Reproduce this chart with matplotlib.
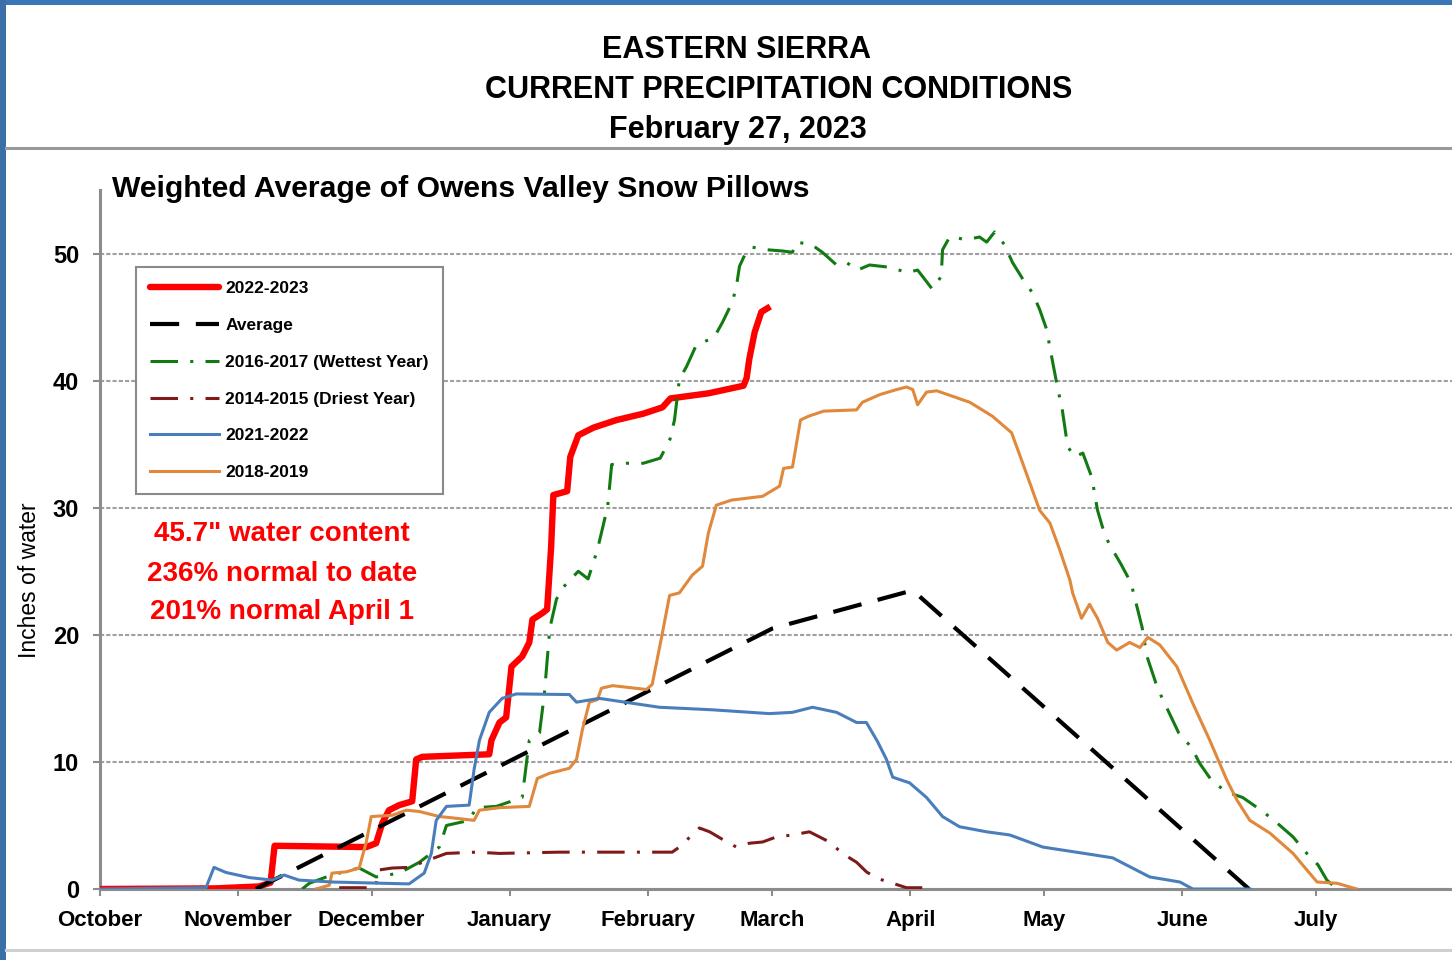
import numpy as np
import matplotlib
matplotlib.use("Agg")
import matplotlib.pyplot as plt
from matplotlib import font_manager
from matplotlib.lines import Line2D
from matplotlib.patches import Rectangle

# days since Oct 1 / inches of water
red_days = [0, 26, 35.7, 38.3, 39.2, 59.8, 62, 63.4, 64.9, 67.2, 70.1, 71, 72.4, 87.4, 87.9,
            89.7, 91.2, 92.4, 94.8, 96.4, 97.1, 99.3, 100.4, 101.3, 101.8, 104.9, 105.6,
            107.4, 110.8, 116, 122, 126.3, 128.1, 136.6, 144.5, 145.2, 145.8, 147, 148.5, 149.9]
red_vals = [0, 0.05, 0.2, 0.5, 3.4, 3.3, 3.6, 5.2, 6.2, 6.6, 6.9, 10.2, 10.4, 10.6, 11.7,
            13.1, 13.5, 17.5, 18.3, 19.4, 21.2, 21.7, 22.0, 26.9, 31.0, 31.3, 34.0,
            35.7, 36.3, 36.9, 37.4, 37.9, 38.6, 39.0, 39.6, 40.2, 41.7, 43.8, 45.4, 45.7]

avg_days = [35, 151, 182.5, 258]
avg_vals = [0, 20.5, 23.5, 0]

wet_days = [45.4, 47, 52, 58.2, 62, 67.2, 71.7, 76.2, 77.8, 82.9, 84.5, 89, 94.8, 96.4, 98.7,
            99.8, 101, 102.5, 103.9, 107.4, 109.6, 110.8, 111.7, 114, 114.9, 118.2, 122,
            125.8, 128, 129, 130.1, 131.7, 133.9, 137.9, 139.8, 142, 142.9, 143.6, 145.2,
            146.5, 149.7, 153.3, 155.5, 156.4, 159.8, 162.2, 165.4, 167.6, 170.1, 172.8,
            177.8, 181.1, 183.6, 186.9, 188.9, 189.2, 190.8, 194.6, 197.5, 199.1, 200.9,
            203.1, 204.9, 207.2, 209.4, 211, 212.6, 213.3, 215.1, 216, 217.3, 218.9, 220.7,
            222.7, 223.4, 224, 225.6, 226.7, 229.2, 231.5, 234, 235.1, 237.1, 238.4, 242.2,
            245.2, 246.9, 249.9, 253.3, 256.6, 261.1, 264.3, 267.9, 271, 273.5, 275.5, 277.8]
wet_vals = [0, 0.45, 1.1, 1.65, 0.95, 1.25, 2.1, 3.3, 5, 5.4, 6.4, 6.5, 7.2, 11.7, 12.3,
            15.4, 20.5, 22.8, 23.7, 25, 24.4, 25.7, 26.7, 30.1, 33.4, 33.5, 33.5,
            33.9, 35.4, 36.9, 40.1, 41.1, 42.8, 43.4, 44.6, 46.2, 47.4, 49, 50.2,
            50.5, 50.3, 50.2, 50.1, 50.9, 50.7, 50.1, 49.1, 49.3, 48.7, 49.1,
            48.9, 48.5, 48.7, 47.2, 48.2, 50.3, 51.3, 51.1, 51.3, 50.9, 51.7,
            50.7, 49.3, 48, 46.9, 45.6, 44, 42.6, 39.3, 37.9, 34.8, 34, 34.3,
            32.4, 31, 29.8, 27.9, 27.1, 25.6, 24.1, 20.6, 18.3, 16.2, 15.1, 12.3,
            11.1, 9.9, 8.4, 7.6, 7.2, 6.1, 5.2, 4.1, 2.8, 1.9, 0.7, 0]

dry_days = [53.7, 58.9, 61.8, 62.7, 65.6, 69.4, 73.9, 77.8, 84.5, 89.7, 103.1, 128.5, 130.1,
            134.6, 136.9, 139.8, 142.9, 145.8, 148.8, 151.9, 155.5, 159.3, 163.8, 166.7,
            169.9, 172.1, 174.4, 178, 181.1, 184.7]
dry_vals = [0.1, 0.1, 0.1, 1.5, 1.65, 1.7, 2.3, 2.8, 2.9, 2.8, 2.9, 2.9, 3.3,
            4.8, 4.5, 3.9, 3.3, 3.6, 3.7, 4.1, 4.25, 4.5, 3.7, 2.8,
            2.1, 1.35, 0.85, 0.45, 0.1, 0.1]

y2122_days = [0, 23.8, 25.6, 28.3, 33.5, 38.7, 41.3, 44.7, 52.1, 69.4, 72.8, 74.4, 75.5, 77.8,
              82.9, 84, 85.2, 87.4, 90.3, 93.5, 105.4, 107, 112.1, 125.6, 137.5, 150.3, 155.5,
              160, 165.4, 169.9, 172.1, 174.6, 176.6, 178, 181.8, 185.6, 189.2, 193, 199.1,
              204.3, 211.7, 222.9, 227.4, 235.7, 242.5, 245.4, 258.2]
y2122_vals = [0, 0.1, 1.7, 1.3, 0.9, 0.7, 1.1, 0.7, 0.55, 0.4, 1.25, 2.8, 5.4, 6.5,
              6.6, 9.4, 11.7, 13.9, 15, 15.35, 15.3, 14.7, 15, 14.3, 14.1, 13.8, 13.9,
              14.3, 13.9, 13.1, 13.1, 11.6, 10.2, 8.8, 8.35, 7.2, 5.7, 4.9, 4.5,
              4.25, 3.3, 2.7, 2.45, 0.95, 0.55, 0, 0]

y1819_days = [48.5, 51.5, 52.1, 55.3, 58.2, 59.8, 60.9, 65.6, 68.8, 71.7, 76.2, 79.1, 84, 85.2,
              89.7, 96.4, 98.2, 100.9, 105.4, 107, 108.3, 109.9, 111.7, 112.6, 115.1, 122.7,
              124, 126.1, 127.9, 130.1, 133, 135.3, 136.6, 138.4, 141.8, 148.8, 152.6, 153.5,
              155.5, 157.3, 159.1, 162.5, 169.9, 171.2, 175.1, 178.9, 181.1, 182.5, 183.6,
              185.6, 187.9, 195.3, 200.4, 204.7, 207.2, 211, 213.3, 215.5, 217.8, 218.4,
              220.4, 222.2, 224, 226.3, 228.3, 231.2, 233.5, 235.3, 238, 241.8, 245.4,
              249.2, 253, 255.3, 258.2, 262.7, 267.9, 271, 273.3, 277.8, 282.2]
y1819_vals = [0, 0.3, 1.25, 1.35, 1.65, 3.7, 5.7, 5.8, 6.2, 6.1, 5.7, 5.6, 5.4, 6.2,
              6.4, 6.5, 8.7, 9.1, 9.5, 10.2, 12.5, 14.7, 14.9, 15.8, 16, 15.7,
              16.1, 19.8, 23.1, 23.3, 24.7, 25.4, 28, 30.2, 30.6, 30.9, 31.7, 33.1,
              33.2, 36.9, 37.2, 37.6, 37.7, 38.3, 38.9, 39.3, 39.5, 39.3, 38.1,
              39.1, 39.2, 38.3, 37.2, 35.9, 33.5, 29.8, 28.8, 26.7, 24.3, 23.3,
              21.3, 22.4, 21.3, 19.4, 18.8, 19.4, 19, 19.8, 19.2, 17.5, 14.6,
              11.7, 8.6, 7, 5.4, 4.4, 2.8, 1.5, 0.55, 0.45, 0]

months = ["October", "November", "December", "January", "February", "March",
          "April", "May", "June", "July"]
month_days = [0, 31, 61, 92, 123, 151, 182, 212, 243, 273]

W, H = 1452, 960
avail = {f.name for f in font_manager.fontManager.ttflist}
NARROW = "Liberation Sans Narrow" if "Liberation Sans Narrow" in avail else "Liberation Sans"
plt.rcParams["font.family"] = [NARROW, "DejaVu Sans"]

fig = plt.figure(figsize=(W / 100, H / 100), dpi=100)


def fx(px):
    return px / W


def fy(py):
    return 1 - py / H


# frame pieces of the screenshot
fig.patches.append(Rectangle((0, fy(5)), 1, 5 / H, transform=fig.transFigure,
                             facecolor="#3a76b6", edgecolor="none", zorder=0))
fig.patches.append(Rectangle((0, 0), fx(6), 1, transform=fig.transFigure,
                             facecolor="#3a6fa8", edgecolor="none", zorder=0))
fig.lines.append(Line2D([fx(6), 1], [fy(148), fy(148)], transform=fig.transFigure,
                        color="#9a9a9a", lw=2.2))
fig.lines.append(Line2D([fx(6), 1], [fy(950), fy(950)], transform=fig.transFigure,
                        color="#cfcfcf", lw=2.2))

fig.text(fx(737), fy(50), "EASTERN SIERRA", ha="center", va="center",
         fontsize=22, fontweight="bold")
fig.text(fx(779), fy(90), "CURRENT PRECIPITATION CONDITIONS", ha="center", va="center",
         fontsize=22, fontweight="bold")
fig.text(fx(738), fy(130), "February 27, 2023", ha="center", va="center",
         fontsize=22, fontweight="bold")

ax = fig.add_axes([fx(100), fy(889), 1 - fx(100), (889 - 190) / H])
ax.set_xlim(0, (W - 101) / 4.45)
ax.set_ylim(0, 55)

ax.plot(red_days, red_vals, color="#ff0000", lw=4.6, solid_joinstyle="round", zorder=3)
ax.plot(avg_days, avg_vals, color="black", lw=3, dashes=(7, 4), zorder=4)
ax.plot(wet_days, wet_vals, color="#127a12", lw=2.2, dashes=(9, 4, 1, 4), zorder=4)
ax.plot(dry_days, dry_vals, color="#7f1a1a", lw=2.2, dashes=(9, 4, 1, 4), zorder=4)
ax.plot(y1819_days, y1819_vals, color="#e0883c", lw=2.2, zorder=5)
ax.plot(y2122_days, y2122_vals, color="#4a7ebb", lw=2.2, zorder=6)

for s in ["top", "right"]:
    ax.spines[s].set_visible(False)
for s in ["left", "bottom"]:
    ax.spines[s].set_color("#8c8c8c")
    ax.spines[s].set_linewidth(2.2)

ax.set_yticks(range(0, 51, 10))
ax.set_xticks(month_days)
ax.set_xticklabels(months)
ax.tick_params(axis="both", colors="#8c8c8c", labelcolor="black", labelsize=16,
               width=1.5, length=5)
ax.tick_params(axis="y", pad=10, labelsize=17)
ax.tick_params(axis="x", pad=10)
for lab in ax.get_xticklabels() + ax.get_yticklabels():
    lab.set_fontweight("bold")

ax.yaxis.grid(True, color="#a0a0a0", lw=1.5, linestyle=(0, (2, 1)))
ax.set_axisbelow(True)

fig.text(fx(30), fy(580), "Inches of water", rotation=90, ha="center", va="center",
         fontsize=16.5)
fig.text(fx(112), fy(189), "Weighted Average of Owens Valley Snow Pillows",
         ha="left", va="center", fontsize=21.7, fontweight="bold")

ann = ['45.7" water content', "236% normal to date", "201% normal April 1"]
for t, py in zip(ann, [534, 574, 612]):
    fig.text(fx(282), fy(py), t, ha="center", va="center", color="#ff0000",
             fontsize=20, fontweight="bold")

handles = [
    Line2D([], [], color="#ff0000", lw=4.6, solid_capstyle="round"),
    Line2D([], [], color="black", lw=3, dashes=(7, 4)),
    Line2D([], [], color="#127a12", lw=2.2, dashes=(9, 4, 1, 4)),
    Line2D([], [], color="#7f1a1a", lw=2.2, dashes=(9, 4, 1, 4)),
    Line2D([], [], color="#4a7ebb", lw=2.2),
    Line2D([], [], color="#e0883c", lw=2.2),
]
labels = ["2022-2023", "Average", "2016-2017 (Wettest Year)", "2014-2015 (Driest Year)",
          "2021-2022", "2018-2019"]
leg = ax.legend(handles, labels, loc="upper left", bbox_to_anchor=(fx(136), fy(267)),
                bbox_transform=fig.transFigure, fancybox=False, edgecolor="#8a8a8a",
                framealpha=1, handlelength=4.0, handletextpad=0.35, labelspacing=1.25,
                borderpad=0.8, borderaxespad=0, prop={"weight": "bold", "size": 12.5})
leg.get_frame().set_linewidth(1.5)
leg.set_zorder(10)

fig.savefig("out.png", dpi=100)
